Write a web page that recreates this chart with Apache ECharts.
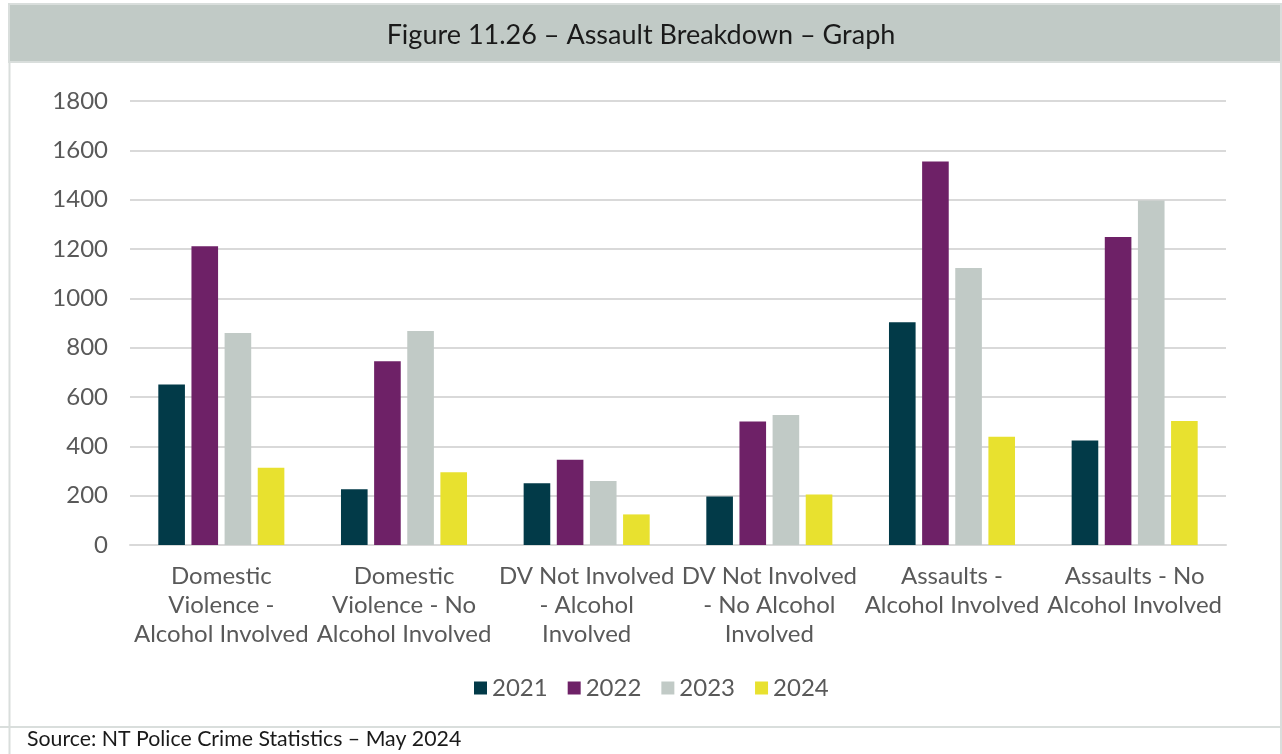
<!DOCTYPE html>
<html>
<head>
<meta charset="utf-8">
<script src="https://cdn.jsdelivr.net/npm/echarts@6/dist/echarts.min.js"></script>
<style>
html,body{margin:0;padding:0;background:#fff;}
#chart{width:1282px;height:754px;}
</style>
</head>
<body>
<div id="chart"></div>
<script>
const categories = [
  'Domestic\nViolence -\nAlcohol Involved',
  'Domestic\nViolence - No\nAlcohol Involved',
  'DV Not Involved\n- Alcohol\nInvolved',
  'DV Not Involved\n- No Alcohol\nInvolved',
  'Assaults -\nAlcohol Involved',
  'Assaults - No\nAlcohol Involved'
];
const years = ['2021', '2022', '2023', '2024'];
const values2021 = [651, 226, 250, 197, 903, 424];
const values2022 = [1211, 745, 346, 501, 1555, 1249];
const values2023 = [859, 868, 259, 527, 1123, 1397];
const values2024 = [313, 295, 124, 205, 439, 503];
const colors = ['#023A48', '#6E2167', '#C1CAC6', '#E8E12F'];

const chart = echarts.init(document.getElementById('chart'));
const seriesData = [values2021, values2022, values2023, values2024];
const font = 'Lato, "Noto Sans", sans-serif';

chart.setOption({
  animation: false,
  textStyle: { fontFamily: font },
  graphic: [
    { type: 'rect', shape: { x: 9, y: 4, width: 1272, height: 58 }, style: { fill: '#C1CAC6', stroke: '#D9DEDC', lineWidth: 2 } },
    { type: 'text', left: 'center', top: 22, style: { text: 'Figure 11.26 – Assault Breakdown – Graph', font: '27px ' + font, fill: '#1A1A1A' } },
    { type: 'line', shape: { x1: 9.5, y1: 62, x2: 9.5, y2: 754 }, style: { stroke: '#D9DEDC', lineWidth: 2 } },
    { type: 'line', shape: { x1: 1281, y1: 62, x2: 1281, y2: 754 }, style: { stroke: '#D9DEDC', lineWidth: 2 } },
    { type: 'line', shape: { x1: 0, y1: 727, x2: 1282, y2: 727 }, style: { stroke: '#D9DEDC', lineWidth: 2 } },
    { type: 'text', left: 27, top: 729, style: { text: 'Source: NT Police Crime Statistics – May 2024', font: '21.3px ' + font, fill: '#1A1A1A' } }
  ],
  grid: { left: 130, right: 56, top: 101, bottom: 209 },
  legend: {
    data: years,
    left: 469,
    top: 671,
    itemWidth: 13,
    itemHeight: 13,
    itemGap: 20,
    icon: 'rect',
    textStyle: { fontSize: 24, color: '#595959', fontFamily: font }
  },
  xAxis: {
    type: 'category',
    data: categories,
    axisLine: { lineStyle: { color: '#D9D9D9', width: 2 } },
    axisTick: { show: false },
    axisLabel: { interval: 0, fontSize: 24, lineHeight: 29, color: '#595959', margin: 17, fontFamily: font }
  },
  yAxis: {
    type: 'value',
    min: 0,
    max: 1800,
    interval: 200,
    axisLine: { show: false },
    axisTick: { show: false },
    axisLabel: { fontSize: 24, color: '#595959', margin: 22, fontFamily: font, formatter: v => String(v) },
    splitLine: { lineStyle: { color: '#D9D9D9', width: 2 } }
  },
  series: years.map((y, i) => ({
    name: y,
    type: 'bar',
    data: seriesData[i],
    barGap: '24.5%',
    barCategoryGap: '31%',
    itemStyle: { color: colors[i] }
  }))
});
</script>
</body>
</html>
